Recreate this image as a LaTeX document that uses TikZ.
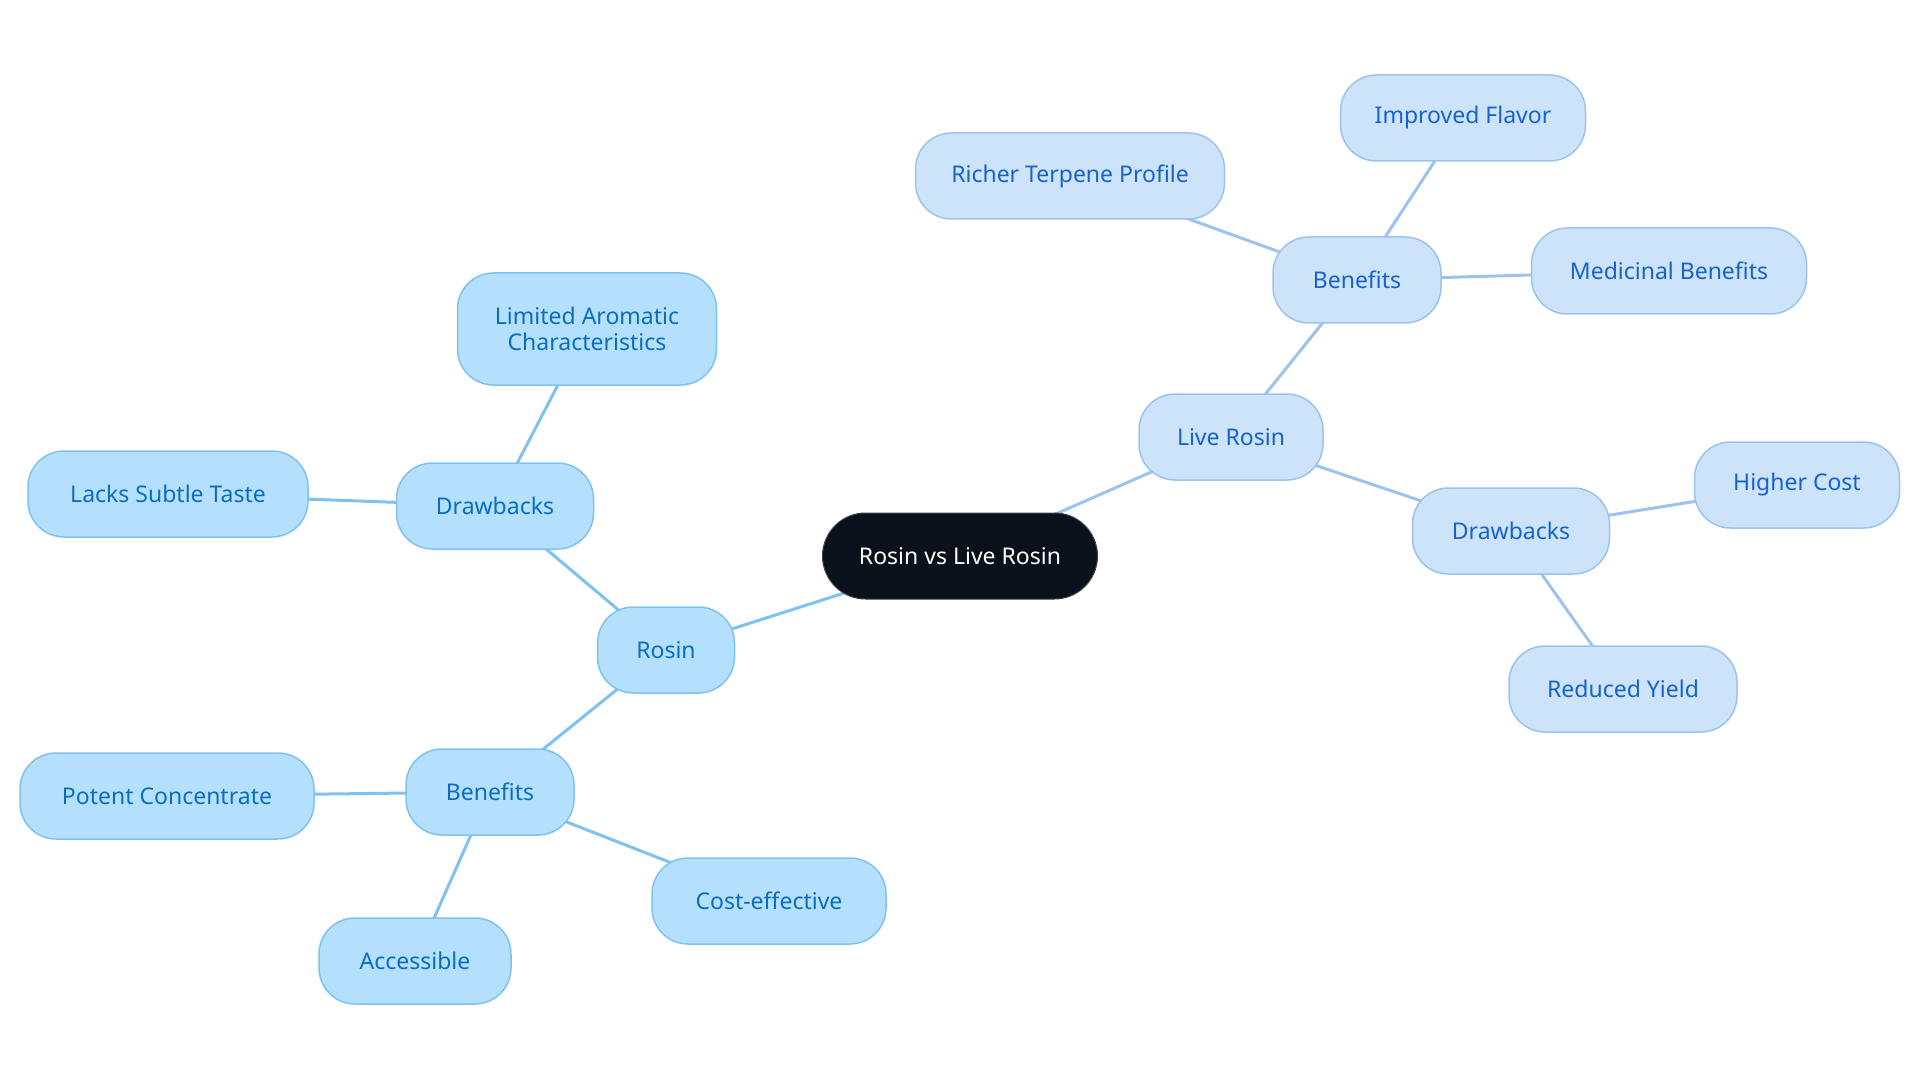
\documentclass[tikz,border=0pt]{standalone}
\usepackage{fontspec}
\setmainfont{Noto Sans}
\usetikzlibrary{backgrounds}
\definecolor{rootfill}{HTML}{0B111A}
\definecolor{rootline}{HTML}{3C4148}
\definecolor{rosinfill}{HTML}{B4E0FD}
\definecolor{rosinline}{HTML}{7FC2F0}
\definecolor{rosintext}{HTML}{0A6DC0}
\definecolor{liveinfill}{HTML}{CCE3FA}
\definecolor{liveline}{HTML}{9CC3EE}
\definecolor{livetext}{HTML}{1763CC}

\begin{document}
\begin{tikzpicture}
  [x=1pt, y=-1pt,
   box/.style={rounded corners=36pt, minimum height=86pt, line width=1.5pt,
     align=center, font=\fontsize{23}{26}\selectfont},
   rosin/.style={box, draw=rosinline, fill=rosinfill, text=rosintext},
   live/.style={box, draw=liveline, fill=liveinfill, text=livetext},
   root/.style={box, rounded corners=43pt, draw=rootline, line width=1pt,
     fill=rootfill, text=white}]
  \useasboundingbox (0, 0) rectangle (1920, 1083);

  \node[root, minimum width=275pt] (root) at (960, 556) {Rosin vs Live Rosin};

  \node[rosin, minimum width=137pt] (ro) at (666, 650) {Rosin};
  \node[rosin, minimum width=197pt] (rod) at (495, 506) {Drawbacks};
  \node[rosin, minimum width=259pt, minimum height=112pt] (rod1) at (587, 329) {Limited Aromatic\\Characteristics};
  \node[rosin, minimum width=280pt] (rod2) at (168, 494) {Lacks Subtle Taste};
  \node[rosin, minimum width=168pt] (rob) at (490, 792) {Benefits};
  \node[rosin, minimum width=294pt] (rob1) at (167, 796) {Potent Concentrate};
  \node[rosin, minimum width=192pt] (rob2) at (415, 961) {Accessible};
  \node[rosin, minimum width=234pt] (rob3) at (769, 901) {Cost-effective};

  \node[live, minimum width=184pt] (lr) at (1231, 437) {Live Rosin};
  \node[live, minimum width=168pt] (lrb) at (1357, 280) {Benefits};
  \node[live, minimum width=309pt] (lrb1) at (1070, 176) {Richer Terpene Profile};
  \node[live, minimum width=245pt] (lrb2) at (1463, 118) {Improved Flavor};
  \node[live, minimum width=275pt] (lrb3) at (1669, 271) {Medicinal Benefits};
  \node[live, minimum width=197pt] (lrd) at (1511, 531) {Drawbacks};
  \node[live, minimum width=205pt] (lrd1) at (1797, 485) {Higher Cost};
  \node[live, minimum width=228pt] (lrd2) at (1623, 689) {Reduced Yield};

  \begin{pgfonlayer}{background}
    \foreach \from/\to in {root/ro,ro/rod,rod/rod1,rod/rod2,ro/rob,rob/rob1,rob/rob2,rob/rob3}
    \draw[rosinline, line width=3pt] (\from.center) -- (\to.center);
    \foreach \from/\to in {root/lr,lr/lrb,lrb/lrb1,lrb/lrb2,lrb/lrb3,lr/lrd,lrd/lrd1,lrd/lrd2}
    \draw[liveline, line width=3pt] (\from.center) -- (\to.center);
  \end{pgfonlayer}
\end{tikzpicture}
\end{document}
